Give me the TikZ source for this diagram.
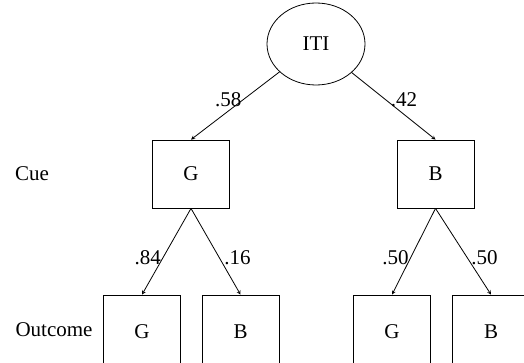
\documentclass[tikz,border=0pt]{standalone}
\usepackage{fontspec}
\setmainfont{Liberation Serif}
\usetikzlibrary{shapes.geometric}

\begin{document}
\begin{tikzpicture}[x=1pt, y=-1pt, font=\fontsize{21}{25}\selectfont,
  box/.style={draw, line width=0.8pt, minimum width=77pt, minimum height=68pt, inner sep=0pt},
  outbox/.style={box, minimum height=74pt},
  branch/.style={->, >=stealth, line width=0.8pt},
  prob/.style={inner sep=1.5pt}]
\clip (0,0) rectangle (524,363);

% Start state
\node[draw, ellipse, line width=0.8pt, minimum width=98pt, minimum height=82pt, inner sep=0pt] (iti) at (316,44) {ITI};

% Cue level
\node (cue) at (32,174) {Cue};
\node[box] (cueG) at (191,174) {G};
\node[box] (cueB) at (435.5,174) {B};

% Outcome level (boxes run off the page)
\node (outcome) at (54,330) {Outcome};
\node[outbox] (outGG) at (142,332) {G};
\node[outbox] (outGB) at (240.5,332) {B};
\node[outbox] (outBG) at (392,332) {G};
\node[outbox] (outBB) at (491,332) {B};

% Branches
\draw[branch] (iti) -- (cueG.north) node[prob, pos=0.41, anchor=east] {.58};
\draw[branch] (iti) -- (cueB.north) node[prob, pos=0.41, anchor=west, xshift=3pt] {.42};
\draw[branch] (cueG.south) -- (outGG.north) node[prob, pos=0.575, anchor=east] {.84};
\draw[branch] (cueG.south) -- (outGB.north) node[prob, pos=0.575, anchor=west, xshift=3pt] {.16};
\draw[branch] (cueB.south) -- (outBG.north) node[prob, pos=0.575, anchor=east] {.50};
\draw[branch] (cueB.south) -- (outBB.north) node[prob, pos=0.575, anchor=west, xshift=2pt] {.50};

\end{tikzpicture}
\end{document}
